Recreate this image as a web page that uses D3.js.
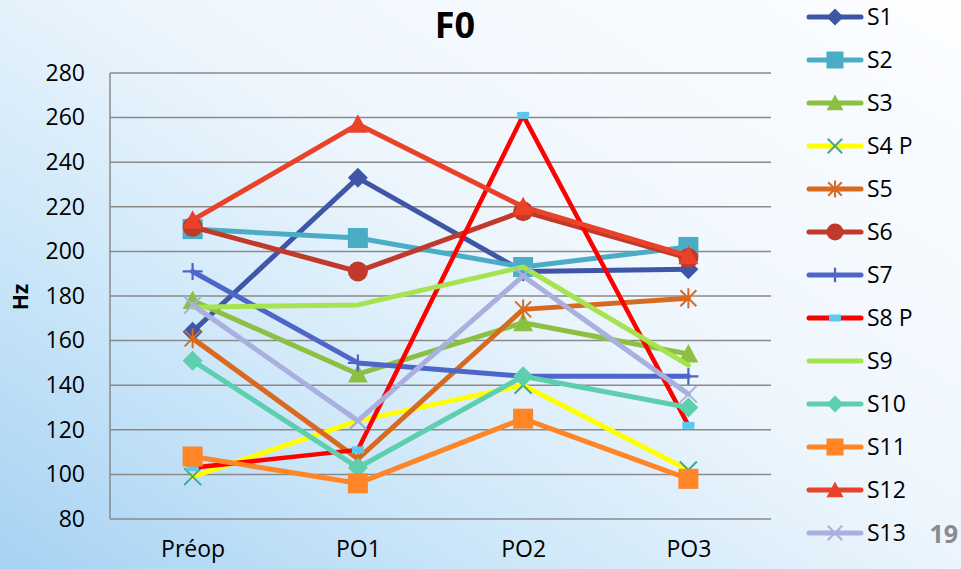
<!DOCTYPE html>
<html>
<head>
<meta charset="utf-8">
<script src="https://cdn.jsdelivr.net/npm/d3@7"></script>
<style>
  html, body { margin: 0; padding: 0; overflow: hidden; }
  svg { display: block; }
  text { font-family: "Open Sans", "Noto Sans", sans-serif; fill: #000; }
</style>
</head>
<body>
<svg id="chart" width="961" height="569"></svg>
<script>
// Fundamental frequency (Hz) per subject across sessions
const categories = ["Préop", "PO1", "PO2", "PO3"];
const seriesNames = ["S1", "S2", "S3", "S4 P", "S5", "S6", "S7", "S8 P", "S9", "S10", "S11", "S12", "S13"];
const s1  = [164, 233, 191, 192];
const s2  = [210, 206, 193, 202];
const s3  = [178, 145, 168, 154];
const s4  = [99, 124, 140, 102];
const s5  = [161, 107, 174, 179];
const s6  = [211, 191, 218, 197];
const s7  = [191, 150, 144, 144];
const s8  = [103, 111, 261, 122];
const s9  = [175, 176, 193, 149];
const s10 = [151, 103, 144, 130];
const s11 = [108, 96, 125, 98];
const s12 = [214, 257, 220, 198];
const s13 = [176, 124, 189, 136];
const yTicks = [80, 100, 120, 140, 160, 180, 200, 220, 240, 260, 280];

const seriesValues = [s1, s2, s3, s4, s5, s6, s7, s8, s9, s10, s11, s12, s13];
const lineColors   = ["#3F55A6", "#4BACC6", "#8BC043", "#FFFF00", "#D8691E", "#C1392A", "#4F66C9",
                      "#FF0000", "#A6E351", "#5ECFAE", "#FF8527", "#EA4228", "#A9B0DD"];
const markerColors = ["#3F55A6", "#4BACC6", "#8BC043", "#40A891", "#D8691E", "#C1392A", "#4F66C9",
                      "#5CC8F0", "#A6E351", "#5ECFAE", "#FF8527", "#EA4228", "#A9B0DD"];
const markerKinds  = ["diamond", "square", "triangle", "x", "star", "circle", "plus",
                      "dash", "none", "diamond", "square", "triangle", "x"];

const svg = d3.select("#chart");
const W = 961, H = 569;
const plot = { left: 110, right: 771, top: 73, bottom: 519 };

// Background wash
const defs = svg.append("defs");
const bg = defs.append("linearGradient").attr("id", "bg")
  .attr("x1", "0").attr("y1", "1").attr("x2", "1").attr("y2", "0.1");
bg.append("stop").attr("offset", "0").attr("stop-color", "#a6d2f3");
bg.append("stop").attr("offset", "0.3").attr("stop-color", "#cde7f9");
bg.append("stop").attr("offset", "0.58").attr("stop-color", "#eef6fd");
bg.append("stop").attr("offset", "1").attr("stop-color", "#fbfdff");
svg.append("rect").attr("width", W).attr("height", H).attr("fill", "url(#bg)");

const x = d3.scalePoint().domain(categories).range([plot.left, plot.right]).padding(0.5);
const y = d3.scaleLinear().domain([80, 280]).range([plot.bottom, plot.top]);

// Gridlines
svg.append("g").selectAll("line").data(yTicks).join("line")
  .attr("x1", plot.left).attr("x2", plot.right)
  .attr("y1", d => y(d)).attr("y2", d => y(d))
  .attr("stroke", "#8a8a8a").attr("stroke-width", 1.5);
svg.append("line")
  .attr("x1", plot.left).attr("x2", plot.left)
  .attr("y1", plot.top).attr("y2", plot.bottom)
  .attr("stroke", "#8a8a8a").attr("stroke-width", 1.5);

// Y axis labels
const yAxis = d3.axisLeft(y).tickValues(yTicks).tickSize(0).tickPadding(25);
const gy = svg.append("g").attr("transform", `translate(${plot.left},0)`).call(yAxis);
gy.select(".domain").remove();
gy.selectAll("text").attr("font-size", 23).attr("font-family", "Open Sans, sans-serif").attr("fill", "#000");

// X axis labels
const xAxis = d3.axisBottom(x).tickSize(0).tickPadding(22);
const gx = svg.append("g").attr("transform", `translate(0,${plot.bottom})`).call(xAxis);
gx.select(".domain").remove();
gx.selectAll("text").attr("font-size", 23).attr("font-family", "Open Sans, sans-serif").attr("fill", "#000");

// Axis title
svg.append("text").attr("transform", "translate(28,297) rotate(-90)")
  .attr("text-anchor", "middle").attr("font-size", 21).attr("font-weight", "bold").text("Hz");

// Chart title
svg.append("text").attr("x", 455).attr("y", 38).attr("text-anchor", "middle")
  .attr("font-size", 36).attr("font-weight", "bold").text("F0");

// Marker drawing
function drawMarker(g, kind, color, s) {
  const h = s / 2;
  if (kind === "diamond") {
    g.append("path").attr("d", `M0,${-h}L${h},0L0,${h}L${-h},0Z`).attr("fill", color);
  } else if (kind === "square") {
    g.append("rect").attr("x", -h).attr("y", -h).attr("width", s).attr("height", s).attr("fill", color);
  } else if (kind === "triangle") {
    g.append("path").attr("d", `M0,${-h}L${h},${h * 0.85}L${-h},${h * 0.85}Z`).attr("fill", color);
  } else if (kind === "circle") {
    g.append("circle").attr("r", h).attr("fill", color);
  } else if (kind === "x") {
    const a = h * 0.85;
    g.append("path").attr("d", `M${-a},${-a}L${a},${a}M${-a},${a}L${a},${-a}`)
      .attr("stroke", color).attr("stroke-width", 2).attr("fill", "none");
  } else if (kind === "star") {
    const a = h * 0.8;
    g.append("path").attr("d", `M${-a},${-a}L${a},${a}M${-a},${a}L${a},${-a}M0,${-h}L0,${h}`)
      .attr("stroke", color).attr("stroke-width", 2).attr("fill", "none");
  } else if (kind === "plus") {
    g.append("path").attr("d", `M${-h},0L${h},0M0,${-h * 0.85}L0,${h * 0.85}`)
      .attr("stroke", color).attr("stroke-width", 2.2).attr("fill", "none");
  } else if (kind === "dash") {
    g.append("rect").attr("x", -6).attr("y", -3.5).attr("width", 12).attr("height", 7).attr("fill", color);
  }
}

const line = d3.line().x((d, i) => x(categories[i])).y(d => y(d));

// Series lines with markers, drawn in order
seriesValues.forEach((vals, si) => {
  const g = svg.append("g");
  g.append("path").datum(vals).attr("d", line)
    .attr("fill", "none").attr("stroke", lineColors[si])
    .attr("stroke-width", si === 7 ? 4.5 : 5).attr("stroke-linejoin", "round").attr("stroke-linecap", "round");
  vals.forEach((v, i) => {
    const m = g.append("g").attr("transform", `translate(${x(categories[i])},${y(v)})`);
    drawMarker(m, markerKinds[si], markerColors[si], 20);
  });
});

// Legend
const lg = svg.append("g");
seriesNames.forEach((name, i) => {
  const yy = 17 + i * 43;
  lg.append("line").attr("x1", 809).attr("x2", 861).attr("y1", yy).attr("y2", yy)
    .attr("stroke", lineColors[i]).attr("stroke-width", 5).attr("stroke-linecap", "round");
  const m = lg.append("g").attr("transform", `translate(835,${yy})`);
  drawMarker(m, markerKinds[i], markerColors[i], 17);
  lg.append("text").attr("x", 867).attr("y", yy).attr("dy", "0.36em")
    .attr("font-size", 23).text(name);
});

// Slide number
svg.append("text").attr("x", 958).attr("y", 543).attr("text-anchor", "end")
  .attr("font-size", 25).attr("font-weight", "bold")
  .style("fill", "#8a8a8a").text("19");
</script>
</body>
</html>
